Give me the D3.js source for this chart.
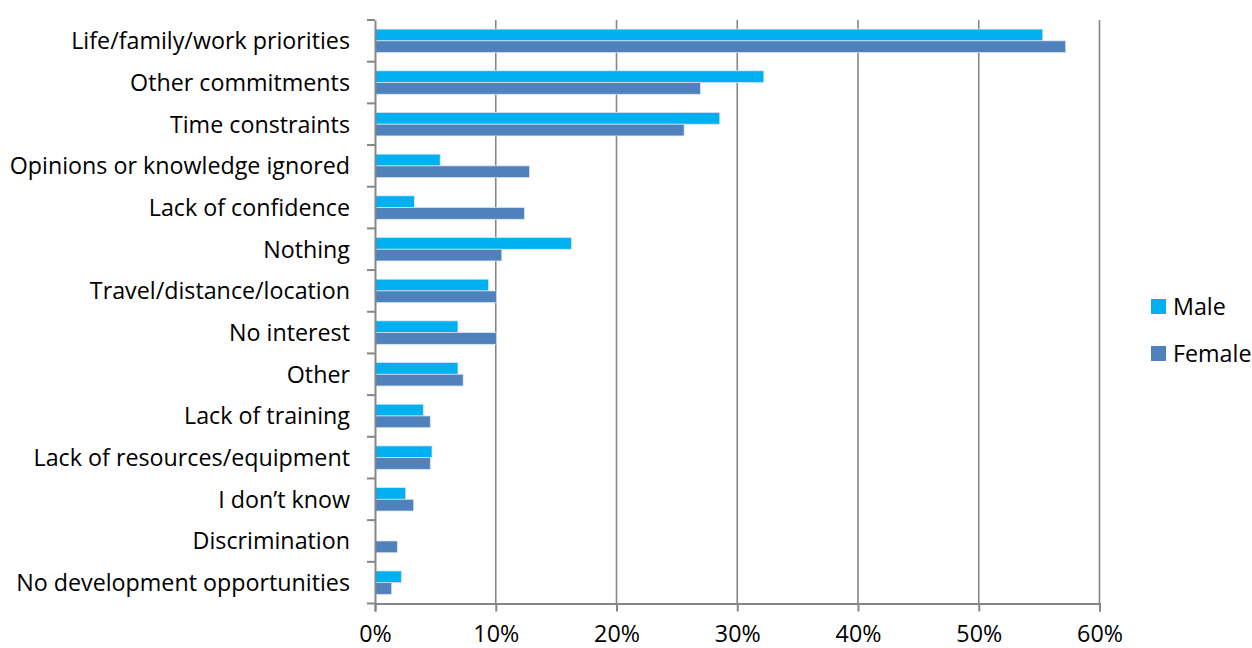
<!DOCTYPE html>
<html>
<head>
<meta charset="utf-8">
<script src="https://cdn.jsdelivr.net/npm/d3@7/dist/d3.min.js"></script>
<style>
  html, body { margin: 0; padding: 0; background: #fff; }
  svg { display: block; font-family: "Open Sans", Lato, sans-serif; }
</style>
</head>
<body>
<svg id="chart" width="1252" height="648"></svg>
<script>
// Reasons (top to bottom) and share of respondents per gender
const categories = [
  "Life/family/work priorities",
  "Other commitments",
  "Time constraints",
  "Opinions or knowledge ignored",
  "Lack of confidence",
  "Nothing",
  "Travel/distance/location",
  "No interest",
  "Other",
  "Lack of training",
  "Lack of resources/equipment",
  "I don\u2019t know",
  "Discrimination",
  "No development opportunities"
];
const maleValues   = [0.553, 0.322, 0.2855, 0.054, 0.0326, 0.1626, 0.094, 0.0687, 0.0687, 0.040, 0.0472, 0.0254, 0.0, 0.0218];
const femaleValues = [0.572, 0.2695, 0.256, 0.128, 0.1237, 0.105, 0.1007, 0.1007, 0.073, 0.0458, 0.0458, 0.032, 0.0185, 0.0138];
const seriesNames  = ["Male", "Female"];
const seriesColors = ["#00B0F0", "#4F81BD"];
const xTicks = [0, 0.1, 0.2, 0.3, 0.4, 0.5, 0.6];

const svg = d3.select("#chart");
const plotLeft = 375, plotRight = 1099.5, plotTop = 20, plotBottom = 603.5;
const axisColor = "#868686";

// pick a label size so the longest category name spans the space left of the axis
const probe = svg.append("text").attr("font-size", 20).text(categories[13]);
const labelSize = 20 * 334 / probe.node().getComputedTextLength();
probe.remove();

const x = d3.scaleLinear().domain([0, 0.6]).range([plotLeft, plotRight]);
const y = d3.scaleBand().domain(categories).range([plotTop, plotBottom]).paddingInner(0).paddingOuter(0);
const inner = d3.scaleBand().domain(seriesNames).range([0, y.bandwidth()]).paddingInner(0).paddingOuter(0.78);

// vertical gridlines
svg.append("g").selectAll("line").data(xTicks.slice(1)).join("line")
  .attr("x1", d => x(d)).attr("x2", d => x(d))
  .attr("y1", plotTop).attr("y2", plotBottom)
  .attr("stroke", axisColor).attr("stroke-width", 1.6);

// bars
const rows = categories.map((c, i) => ({ c, vals: [maleValues[i], femaleValues[i]] }));
const g = svg.append("g");
rows.forEach(r => {
  r.vals.forEach((v, j) => {
    if (v <= 0) return;
    g.append("rect")
      .attr("x", x(0))
      .attr("y", y(r.c) + inner(seriesNames[j]))
      .attr("width", x(v) - x(0))
      .attr("height", inner.bandwidth())
      .attr("fill", seriesColors[j])
      .attr("stroke", "rgba(220,230,245,0.9)")
      .attr("stroke-width", 0.8);
  });
});

// category axis (left)
const yAxis = d3.axisLeft(y).tickSize(0).tickPadding(25);
const yg = svg.append("g").attr("transform", `translate(${plotLeft},1)`).call(yAxis);
yg.select(".domain").attr("stroke", axisColor).attr("stroke-width", 2).attr("transform", "translate(0,-1)");
yg.selectAll("text").attr("font-size", labelSize).attr("fill", "#000")
  .attr("font-family", "'Open Sans', Lato, sans-serif");
// tick marks on category boundaries
svg.append("g").selectAll("line").data(d3.range(categories.length + 1)).join("line")
  .attr("x1", plotLeft - 8).attr("x2", plotLeft)
  .attr("y1", i => plotTop + i * y.step()).attr("y2", i => plotTop + i * y.step())
  .attr("stroke", axisColor).attr("stroke-width", 2);

// value axis (bottom)
const xAxis = d3.axisBottom(x).tickValues(xTicks).tickFormat(d3.format(".0%")).tickSize(8).tickPadding(14);
const xg = svg.append("g").attr("transform", `translate(0,${plotBottom})`).call(xAxis);
xg.select(".domain").attr("stroke", axisColor).attr("stroke-width", 2);
xg.selectAll(".tick line").attr("stroke", axisColor).attr("stroke-width", 2);
xg.selectAll("text").attr("font-size", labelSize).attr("fill", "#000")
  .attr("font-family", "'Open Sans', Lato, sans-serif");

// legend
const legend = svg.append("g").attr("transform", "translate(1151,299)");
seriesNames.forEach((n, i) => {
  const lg = legend.append("g").attr("transform", `translate(0,${i * 47})`);
  lg.append("rect").attr("width", 15).attr("height", 15).attr("fill", seriesColors[i]);
  lg.append("text").attr("x", 22).attr("y", 7.5).attr("dy", "0.35em")
    .attr("font-size", labelSize).attr("fill", "#000").text(n);
});
</script>
</body>
</html>
